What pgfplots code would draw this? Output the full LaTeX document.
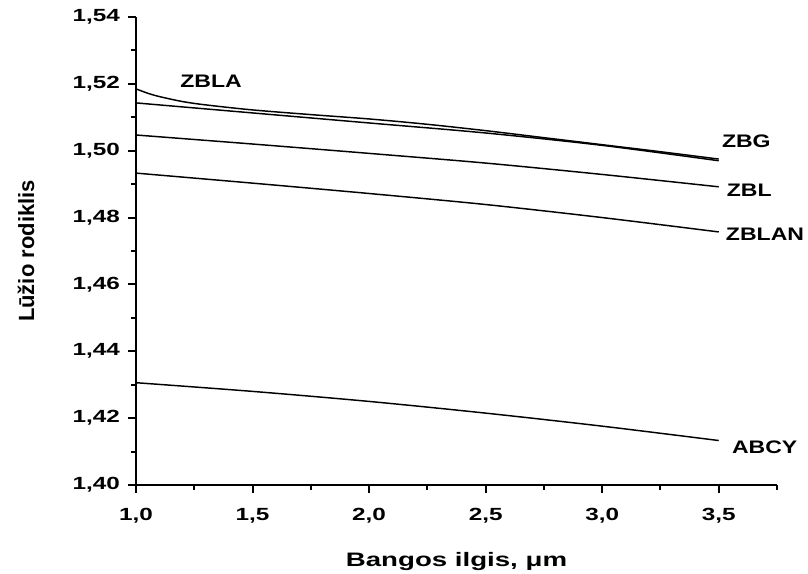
\documentclass[border=0pt]{standalone}
\usepackage{fontspec}
\setmainfont{Liberation Sans}
\newfontfamily\tickfont[FakeStretch=1.38]{Liberation Sans}
\newfontfamily\xlfont[FakeStretch=1.42]{Liberation Sans}
\newfontfamily\curvefont[FakeStretch=1.27]{Liberation Sans}
\usepackage{pgfplots}
\pgfplotsset{compat=1.18}

\begin{document}
\begin{tikzpicture}[x=0.75pt,y=0.75pt]
  % whole frame of the reference, axis origin at (136,485) px
  \path[use as bounding box] (-136,-89) rectangle (672,485);
  \begin{axis}[
    at={(0,0)}, anchor=south west,
    width=480.75pt, height=351pt, scale only axis,
    xmin=1, xmax=3.75, ymin=1.40, ymax=1.54,
    axis lines*=left,
    axis line style={line width=1.5pt},
    tick align=outside,
    major tick length=6pt, minor tick length=3.75pt,
    tick style={line width=1.5pt, black},
    xtick={1.0,1.5,2.0,2.5,3.0,3.5},
    minor xtick={1.25,1.75,2.25,2.75,3.25,3.75},
    ytick={1.40,1.42,1.44,1.46,1.48,1.50,1.52,1.54},
    minor ytick={1.41,1.43,1.45,1.47,1.49,1.51,1.53},
    /pgf/number format/assume math mode=true,
    xticklabel style={font=\tickfont\bfseries\fontsize{13.2}{15}\selectfont, yshift=-8pt,
      /pgf/number format/.cd, fixed, fixed zerofill, precision=1, use comma},
    yticklabel style={font=\tickfont\bfseries\fontsize{13.2}{15}\selectfont, xshift=-2.5pt,
      /pgf/number format/.cd, fixed, fixed zerofill, precision=2, use comma},
    xlabel={Bangos ilgis, μm},
    ylabel={Lūžio rodiklis},
    every axis x label/.style={at={(axis description cs:0.5,-0.1731)}, anchor=base,
      font=\xlfont\bfseries\fontsize{14.6}{16}\selectfont},
    every axis y label/.style={at={(axis description cs:-0.1716,0.5)}, rotate=90, anchor=center,
      font=\bfseries\fontsize{16.5}{18}\selectfont},
    clip=false,
    cycle list={{black}},
    every axis plot/.append style={line width=1.1pt, smooth, no marks},
  ]
    % ZBLA
    \addplot coordinates {
      (1.0,1.5185) (1.05,1.5172) (1.1,1.5162) (1.2,1.5147) (1.3,1.5137)
      (1.5,1.5122) (1.75,1.5108) (2.0,1.5095) (2.25,1.5079) (2.5,1.5060)
      (2.75,1.5039) (3.0,1.5018) (3.25,1.4997) (3.5,1.4975)
    };
    % ZBG
    \addplot coordinates {
      (1.0,1.5143) (1.5,1.5113) (2.0,1.5083) (2.5,1.5053) (3.0,1.5016) (3.5,1.4970)
    };
    % ZBL
    \addplot coordinates {
      (1.0,1.5047) (1.5,1.5020) (2.0,1.4992) (2.5,1.4963) (3.0,1.4929) (3.5,1.4892)
    };
    % ZBLAN
    \addplot coordinates {
      (1.0,1.4933) (1.5,1.4903) (2.0,1.4872) (2.5,1.4839) (3.0,1.4800) (3.5,1.4757)
    };
    % ABCY
    \addplot coordinates {
      (1.0,1.4306) (1.5,1.4280) (2.0,1.4250) (2.5,1.4215) (3.0,1.4176) (3.5,1.4133)
    };
    \begin{scope}[every node/.style={anchor=west, inner sep=0pt,
        font=\curvefont\bfseries\fontsize{13.6}{15}\selectfont}]
      \node at (axis cs:1.189,1.5209) {ZBLA};
      \node at (axis cs:3.513,1.5027) {ZBG};
      \node at (axis cs:3.534,1.4883) {ZBL};
      \node at (axis cs:3.530,1.4749) {ZBLAN};
      \node at (axis cs:3.556,1.4114) {ABCY};
    \end{scope}
  \end{axis}
\end{tikzpicture}
\end{document}
